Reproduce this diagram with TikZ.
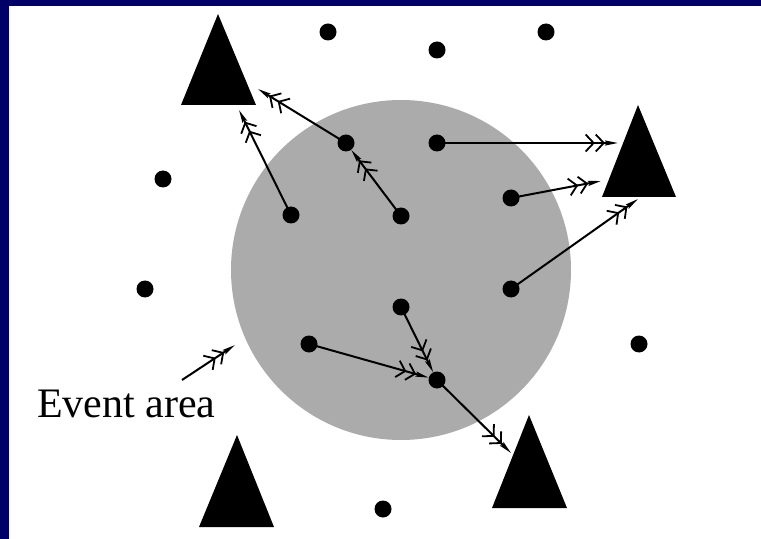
\documentclass[tikz,border=0pt]{standalone}
\usepackage{fontspec}
\setmainfont{Liberation Serif}
\usetikzlibrary{arrows.meta}
\definecolor{navy}{HTML}{000066}
\definecolor{areagray}{HTML}{ABABAB}
\begin{document}
\begin{tikzpicture}[x=1bp,y=-1bp,
  dot/.style={circle,fill=black,inner sep=0pt,minimum size=17bp},
  link/.style={line width=2bp,
    -{Straight Barb[length=8bp,width=17bp,line width=1.8bp]Straight Barb[length=8bp,width=17bp,line width=1.8bp]Stealth[length=13bp,width=5bp,inset=2bp]}},
  tri/.style={fill=black},
  lbl/.style={font=\fontsize{42bp}{48bp}\selectfont,inner sep=0pt,anchor=base west}]
\useasboundingbox (0,0) rectangle (761,539);
\fill[white] (0,0) rectangle (761,539);
% event area
\fill[areagray] (401,270) circle (170);
% triangles (sinks)
\fill[tri] (218,14) -- (256,105) -- (181,105) -- cycle;
\fill[tri] (638,105) -- (676,197) -- (602,197) -- cycle;
\fill[tri] (237,435) -- (274,527) -- (199,527) -- cycle;
\fill[tri] (529,415) -- (567,508) -- (492,508) -- cycle;
\coordinate (tlA) at (239,110);
\coordinate (tlB) at (258,89);
\coordinate (rA) at (618,143);
\coordinate (rB) at (601,181);
\coordinate (rC) at (638,199);
\coordinate (brA) at (511,453);
% dots outside
\node[dot] (o1) at (328,32) {};
\node[dot] (o2) at (437,50) {};
\node[dot] (o3) at (546,32) {};
\node[dot] (o4) at (163,179) {};
\node[dot] (o5) at (145,289) {};
\node[dot] (o6) at (639,344) {};
\node[dot] (o7) at (383,509) {};
% dots inside
\node[dot] (a) at (346,143) {};
\node[dot] (b) at (437,143) {};
\node[dot] (c) at (291,215) {};
\node[dot] (d) at (401,216) {};
\node[dot] (e) at (511,198) {};
\node[dot] (f) at (511,289) {};
\node[dot] (g) at (401,307) {};
\node[dot] (h) at (309,344) {};
\node[dot] (k) at (437,380) {};
% arrows
\draw[link] (c.center) -- (tlA);
\draw[link] (a.center) -- (tlB);
\draw[link] (d.center) -- (a);
\draw[link] (b.center) -- (rA);
\draw[link] (e.center) -- (rB);
\draw[link] (f.center) -- (rC);
\draw[link] (g.center) -- (k);
\draw[link] (h.center) -- (k);
\draw[link] (k.center) -- (brA);
% label
\node[lbl] (ev) at (37,417) {Event area};
\coordinate (evS) at (182,380);
\coordinate (evT) at (235,345);
\draw[link] (evS) -- (evT);
% frame
\fill[navy] (0,0) rectangle (761,6);
\fill[navy] (0,0) rectangle (9,539);
\end{tikzpicture}
\end{document}
